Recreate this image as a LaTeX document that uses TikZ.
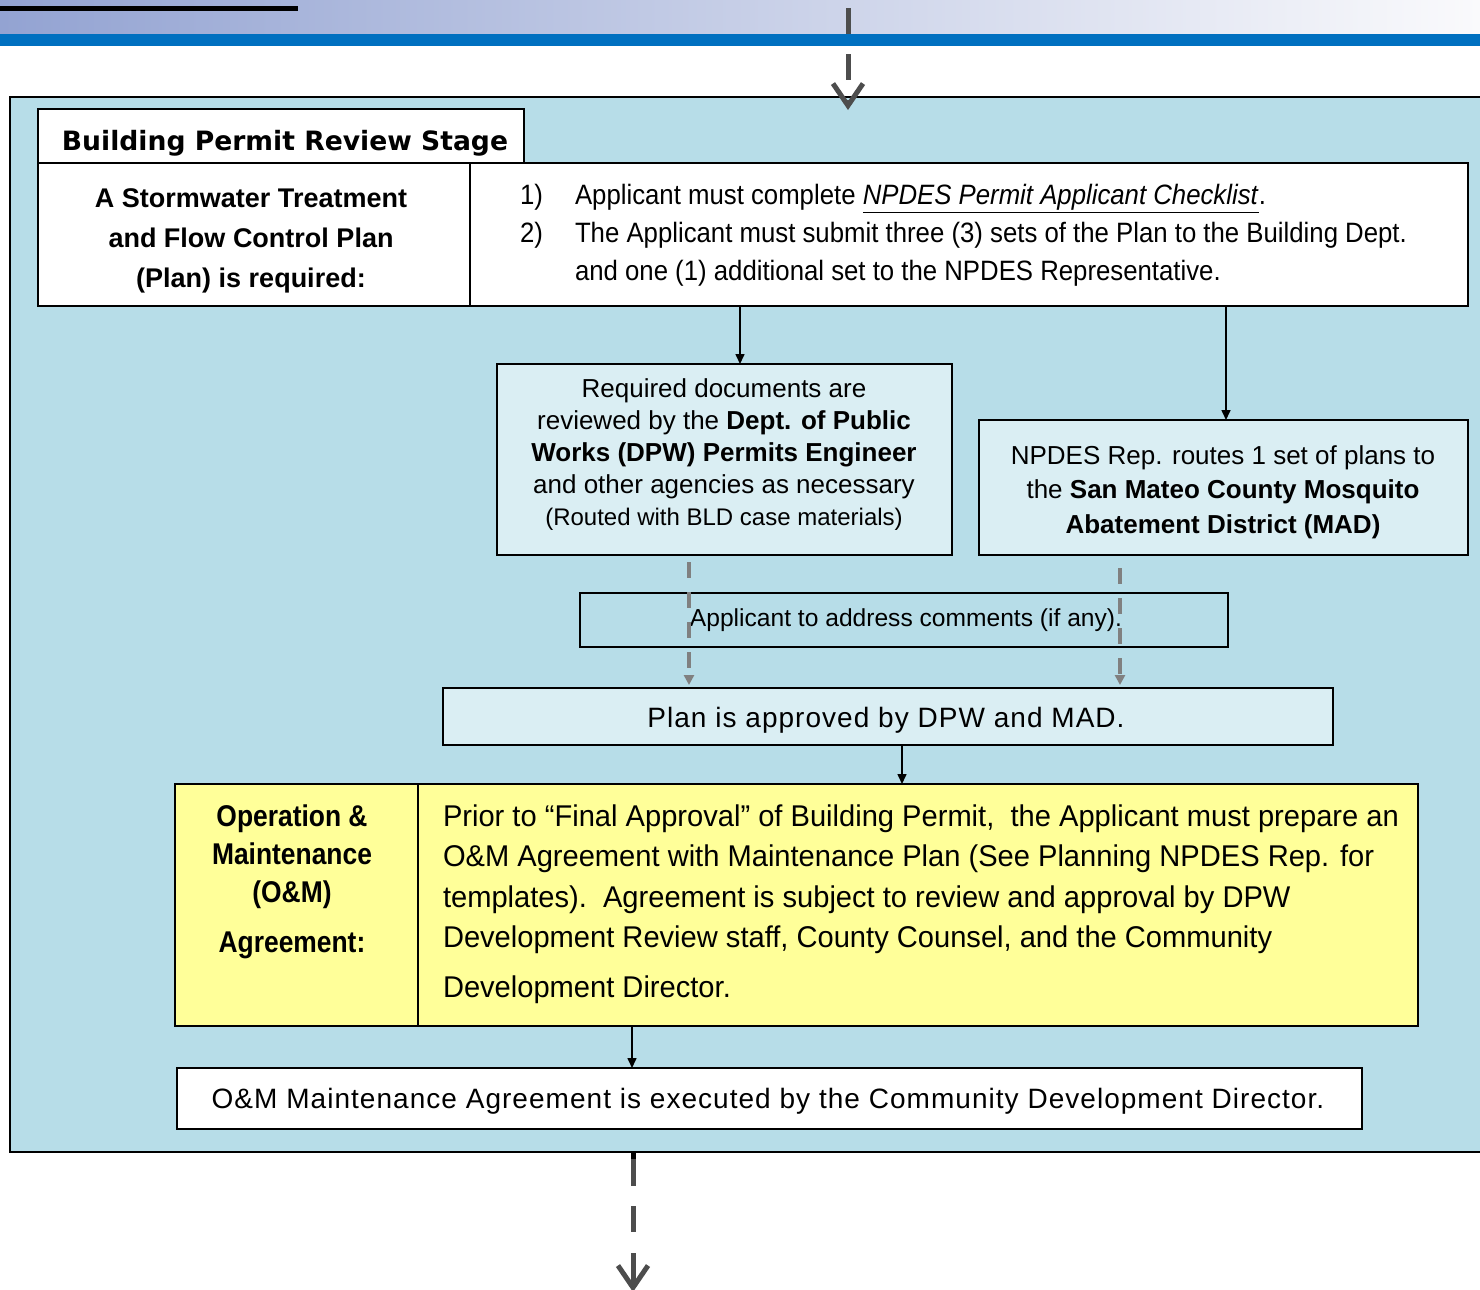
\documentclass[tikz,border=0pt]{standalone}
\usepackage{fontspec}
\setmainfont{Liberation Sans}
\newfontfamily\condfont[FakeStretch=0.92]{Liberation Sans}
\newfontfamily\omfont[FakeStretch=0.97]{Liberation Sans}
\newfontfamily\omlfont[FakeStretch=0.88]{Liberation Sans}
\newfontfamily\spacedfont[LetterSpace=3.7]{Liberation Sans}
\newfontfamily\titlefont{DejaVu Sans}
\usetikzlibrary{arrows.meta}
\definecolor{bgblue}{HTML}{B7DDE8}
\definecolor{lightbox}{HTML}{DAEEF3}
\definecolor{yel}{HTML}{FFFF99}
\definecolor{barblue}{HTML}{0070C0}
\definecolor{gradL}{HTML}{93A3D2}
\definecolor{gradR}{HTML}{FAFAFC}
\definecolor{dgray}{HTML}{4D4D4D}
\definecolor{mgray}{HTML}{808080}
\tikzset{
  box/.style={draw=black, line width=1.1pt, inner sep=0pt, outer sep=0pt, anchor=north west},
  sz/.style 2 args={minimum width=#1*0.5pt, minimum height=#2*0.5pt},
  txt/.style={inner sep=0pt, outer sep=0pt},
  arr/.style={draw=black, line width=0.8pt, -{Triangle[length=5pt,width=4.5pt]}},
  garr/.style={draw=mgray, line width=1.6pt, dash pattern=on 8pt off 7pt, -{Triangle[length=5pt,width=5pt]}},
  bigarr/.style={draw=dgray, line width=2.5pt, -{Straight Barb[length=11pt,width=15pt]}},
}
\begin{document}
\begin{tikzpicture}[x=0.5pt,y=-0.5pt]
\useasboundingbox (0,0) rectangle (1480,1290);
\clip (0,0) rectangle (1480,1290);
\fill[white] (0,0) rectangle (1480,1290);
% header
\shade[left color=gradL, right color=gradR] (0,0) rectangle (1480,34);
\fill[barblue] (0,34) rectangle (1480,46);
\fill[black] (0,6) rectangle (298,11);
% outer panel
\node[box, fill=bgblue, sz={1500}{1055}] (outer) at (10,97) {};
% boxes
\node[box, fill=white, sz={486}{54}] (title) at (38,109) {};
\node[box, fill=white, sz={432}{143}] (req) at (38,163) {};
\node[box, fill=white, sz={998}{143}] (steps) at (470,163) {};
\node[box, fill=lightbox, sz={455}{191}] (dpw) at (497,364) {};
\node[box, fill=lightbox, sz={489}{135}] (mad) at (979,420) {};
\node[box, fill=bgblue, sz={648}{54}] (cmt) at (580,593) {};
\node[box, fill=lightbox, sz={890}{57}] (appr) at (443,688) {};
\node[box, fill=yel, sz={243}{242}] (oml) at (175,784) {};
\node[box, fill=yel, sz={1000}{242}] (omr) at (418,784) {};
\node[box, fill=white, sz={1185}{61}] (final) at (177,1068) {};
% texts (anchor=base of multi-line nodes = baseline of last line)
\node[txt, anchor=base, font={\titlefont\bfseries\fontsize{13.3}{16}\selectfont}] (ttitle) at (285,150) {Building Permit Review Stage};
\node[txt, anchor=base, align=center, font={\bfseries\fontsize{13.5}{20}\selectfont}] (treq) at (251,287) {A Stormwater Treatment\\ and Flow Control Plan\\ (Plan) is required:};
\node[txt, anchor=base west, font={\condfont\fontsize{14}{17}\selectfont}] (n1) at (520,204) {1)};
\node[txt, anchor=base west, font={\condfont\fontsize{14}{17}\selectfont}] (s1) at (575,204) {Applicant must complete \underline{\textit{NPDES Permit Applicant Checklist}}.};
\node[txt, anchor=base west, font={\condfont\fontsize{14}{17}\selectfont}] (n2) at (520,242) {2)};
\node[txt, anchor=base west, font={\condfont\fontsize{14}{17}\selectfont}] (s2) at (575,242) {The Applicant must submit three (3) sets of the Plan to the Building Dept.};
\node[txt, anchor=base west, font={\condfont\fontsize{14}{17}\selectfont}] (s3) at (575,280) {and one (1) additional set to the NPDES Representative.};
\node[txt, anchor=base, align=center, font={\fontsize{13}{16}\selectfont}] (tdpw) at (724,525) {Required documents are\\ reviewed by the \textbf{Dept. of Public}\\ \textbf{Works (DPW) Permits Engineer}\\ and other agencies as necessary\\ {\fontsize{12}{16}\selectfont (Routed with BLD case materials)}};
\node[txt, anchor=base, align=center, font={\fontsize{13}{17.25}\selectfont}] (tmad) at (1223,533) {NPDES Rep. routes 1 set of plans to\\ the \textbf{San Mateo County Mosquito}\\ \textbf{Abatement District (MAD)}};
\node[txt, anchor=base, font={\fontsize{12.3}{14}\selectfont}] (tcmt) at (906,626) {Applicant to address comments (if any).};
\node[txt, anchor=base, font={\spacedfont\fontsize{14}{16}\selectfont}] (tappr) at (886,727) {Plan is approved by DPW and MAD.};
\node[txt, anchor=base, align=center, font={\omlfont\bfseries\fontsize{15}{19}\selectfont}] (toml) at (292,952) {Operation \&\\ Maintenance\\ (O\&M)\\[6pt] Agreement:};
\node[txt, anchor=base west, align=left, font={\omfont\fontsize{15}{20.25}\selectfont}] (tomr) at (443,997) {Prior to “Final Approval” of Building Permit,\ \ the Applicant must prepare an\\ O\&M Agreement with Maintenance Plan (See Planning NPDES Rep. for\\ templates).\ \ Agreement is subject to review and approval by DPW\\ Development Review staff, County Counsel, and the Community\\[4.5pt] Development Director.};
\node[txt, anchor=base, font={\spacedfont\fontsize{14}{16}\selectfont}] (tfinal) at (768,1108) {O\&M Maintenance Agreement is executed by the Community Development Director.};
% connector columns
\coordinate (c740) at (740,0);
\coordinate (c1226) at (1226,0);
\coordinate (c689) at (689,0);
\coordinate (c1120) at (1120,0);
\coordinate (c902) at (902,0);
\coordinate (c632) at (632,0);
\coordinate (topstart) at (848,8);
\coordinate (botend) at (633,1292);
% connectors
\draw[arr] (steps.south -| c740) -- (dpw.north -| c740);
\draw[arr] (steps.south -| c1226) -- (mad.north -| c1226);
\draw[garr, shorten <=3.5pt, shorten >=1.5pt] (dpw.south -| c689) -- (appr.north -| c689);
\draw[garr, shorten <=6.5pt, shorten >=1.5pt] (mad.south -| c1120) -- (appr.north -| c1120);
\draw[arr] (appr.south -| c902) -- (omr.north -| c902);
\draw[arr] (omr.south -| c632) -- (final.north -| c632);
\draw[bigarr, dash pattern=on 13pt off 10pt, shorten >=-6.5pt] (topstart) -- (outer.north -| topstart);
\draw[bigarr, dash pattern=on 17pt off 10pt on 13pt off 10.5pt on 40pt] (outer.south -| botend) -- (botend);
\draw[black, line width=2.5pt] (outer.south -| botend) -- ++(0,7);
\end{tikzpicture}
\end{document}
